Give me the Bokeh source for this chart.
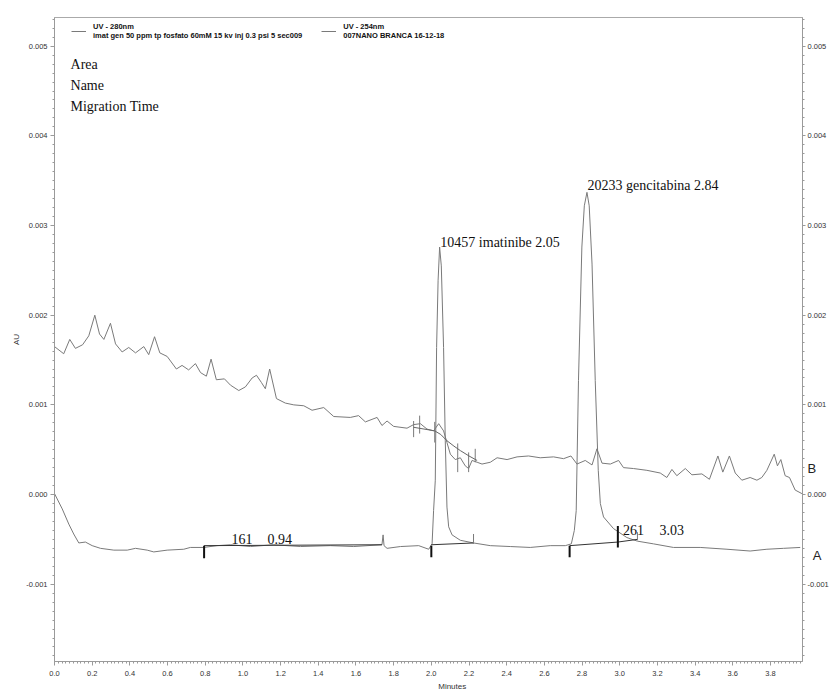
from bokeh.plotting import figure
from bokeh.models import (Range1d, LinearAxis, SingleIntervalTicker, PrintfTickFormatter,
                          Label, Legend, LegendItem)
from bokeh.embed import file_html
from bokeh.resources import INLINE

# ---- Trace A (UV - 280nm, sample) : time (min) / absorbance (AU)
time_a = [0.000, 0.041, 0.076, 0.102, 0.129, 0.164, 0.200, 0.244, 0.315, 0.386, 0.430, 0.492,
          0.527, 0.598, 0.686, 0.721, 0.792, 0.863, 0.934, 1.040, 1.163, 1.305, 1.464, 1.588,
          1.738, 1.744, 1.749, 1.765, 1.836, 1.933, 1.986, 2.004,
          2.012, 2.021, 2.028, 2.036, 2.044, 2.053, 2.065, 2.074, 2.083, 2.092, 2.110, 2.154,
          2.224, 2.313, 2.419, 2.525, 2.631, 2.711,
          2.743, 2.759, 2.769, 2.781, 2.799, 2.812, 2.826, 2.838, 2.853, 2.870, 2.886, 2.897,
          2.914, 2.967, 3.038, 3.094, 3.179, 3.285, 3.427, 3.569, 3.692, 3.781, 3.869, 3.958]
au_a = [0.00001, -0.00016, -0.00033, -0.00044, -0.00054, -0.00053, -0.00057, -0.00060, -0.00062,
        -0.00062, -0.00060, -0.00062, -0.00064, -0.00062, -0.00061, -0.00059, -0.00059, -0.00057,
        -0.00056, -0.00058, -0.00056, -0.00058, -0.00057, -0.00058, -0.00056, -0.00045, -0.00057,
        -0.00060, -0.00058, -0.00057, -0.00061, -0.00055,
        -0.00018, 0.00016, 0.00164, 0.00239, 0.00276, 0.00255, 0.00164, 0.00060, -0.00014,
        -0.00036, -0.00045, -0.00051, -0.00054, -0.00057, -0.00058, -0.00059, -0.00057, -0.00057,
        -0.00055, -0.00040, -0.00018, 0.00127, 0.00276, 0.00322, 0.00337, 0.00322, 0.00257,
        0.00127, 0.00027, -0.00010, -0.00025, -0.00038, -0.00048, -0.00052, -0.00055, -0.00059,
        -0.00059, -0.00061, -0.00063, -0.00061, -0.00060, -0.00059]

# ---- Trace B (UV - 254nm, blank)
time_b = [0.000, 0.049, 0.081, 0.111, 0.149, 0.182, 0.214, 0.239, 0.262, 0.297, 0.324, 0.359,
          0.394, 0.430, 0.474, 0.500, 0.531, 0.559, 0.598, 0.647, 0.677, 0.712, 0.748, 0.775,
          0.806, 0.831, 0.859, 0.902, 0.934, 0.978, 1.013, 1.049, 1.072, 1.098, 1.119, 1.142,
          1.178, 1.225, 1.270, 1.323, 1.367, 1.429, 1.482, 1.570, 1.614, 1.650, 1.712, 1.738,
          1.765, 1.800, 1.871, 1.906, 1.942, 1.977, 2.012, 2.039, 2.065, 2.083, 2.101, 2.127,
          2.154, 2.180, 2.198, 2.216, 2.243, 2.269, 2.313, 2.349, 2.402, 2.455, 2.516, 2.578,
          2.649, 2.702, 2.741, 2.773, 2.817, 2.853, 2.879, 2.906, 2.950, 2.994, 3.020, 3.073,
          3.144, 3.215, 3.250, 3.277, 3.303, 3.348, 3.383, 3.436, 3.476, 3.521, 3.547, 3.582,
          3.613, 3.648, 3.692, 3.728, 3.754, 3.781, 3.820, 3.837, 3.855, 3.878, 3.901, 3.931,
          3.967]
au_b = [0.00165, 0.00157, 0.00173, 0.00163, 0.00167, 0.00177, 0.00200, 0.00179, 0.00173,
        0.00191, 0.00168, 0.00159, 0.00164, 0.00158, 0.00165, 0.00156, 0.00176, 0.00158,
        0.00154, 0.00140, 0.00144, 0.00139, 0.00146, 0.00136, 0.00132, 0.00151, 0.00128,
        0.00129, 0.00122, 0.00116, 0.00120, 0.00130, 0.00133, 0.00125, 0.00118, 0.00140,
        0.00107, 0.00102, 0.00100, 0.00099, 0.00094, 0.00097, 0.00087, 0.00086, 0.00088,
        0.00081, 0.00086, 0.00077, 0.00082, 0.00076, 0.00074, 0.00078, 0.00079, 0.00073,
        0.00071, 0.00079, 0.00071, 0.00058, 0.00045, 0.00039, 0.00041, 0.00032, 0.00029,
        0.00038, 0.00036, 0.00034, 0.00036, 0.00041, 0.00039, 0.00042, 0.00043, 0.00041,
        0.00042, 0.00040, 0.00043, 0.00034, 0.00038, 0.00033, 0.00051, 0.00035, 0.00034,
        0.00038, 0.00030, 0.00029, 0.00027, 0.00024, 0.00019, 0.00028, 0.00021, 0.00029,
        0.00022, 0.00023, 0.00017, 0.00043, 0.00025, 0.00043, 0.00024, 0.00016, 0.00019,
        0.00016, 0.00019, 0.00027, 0.00045, 0.00032, 0.00039, 0.00021, 0.00019, 0.00005,
        0.00001]

# ---- integration events on trace A
event_a_t = [0.794, 2.000, 2.734, 2.990]
event_a_top = [-0.00057, -0.00057, -0.00057, -0.00035]
event_a_bot = [-0.00071, -0.00070, -0.00070, -0.00059]
base_a_t0 = [0.794, 2.000, 2.734, 2.990]
base_a_t1 = [1.738, 2.224, 2.990, 3.094]
base_a_y0 = [-0.00057, -0.00056, -0.00057, -0.00053]
base_a_y1 = [-0.00056, -0.00054, -0.00053, -0.00050]
end_a_t = [2.224, 3.094]
end_a_top = [-0.00044, -0.00042]
end_a_bot = [-0.00055, -0.00051]

# ---- integration events on trace B
event_b_t = [1.906, 1.938, 2.018, 2.140, 2.198, 2.233]
event_b_top = [0.00082, 0.00088, 0.00081, 0.00057, 0.00047, 0.00051]
event_b_bot = [0.00064, 0.00068, 0.00058, 0.00025, 0.00025, 0.00036]
base_b_t = [1.906, 2.018, 2.050, 2.083, 2.120, 2.154, 2.200, 2.243]
base_b_y = [0.00075, 0.00071, 0.00067, 0.00060, 0.00054, 0.00049, 0.00043, 0.00038]

# ---- peak table (area, name, migration time)
peak_area = ["161", "10457", "20233", "261"]
peak_name = ["", "imatinibe", "gencitabina", ""]
peak_mt = ["0.94", "2.05", "2.84", "3.03"]

legend_labels = ["UV - 280nm\nimat gen 50 ppm tp fosfato 60mM 15 kv inj 0.3 psi 5 sec009",
                 "UV - 254nm\n007NANO BRANCA 16-12-18"]

TRACE = "#7a7a7a"
AXIS = "#9a9a9a"
TICKLBL = "#333333"

p = figure(width=831, height=692, output_backend="svg", toolbar_location=None,
           x_range=Range1d(0, 3.97), y_range=Range1d(-0.001862, 0.00532),
           min_border_left=54, min_border_right=25, min_border_top=17, min_border_bottom=31)
p.xgrid.visible = False
p.ygrid.visible = False
p.outline_line_color = "#aaaaaa"
p.background_fill_color = "white"

rA = p.line(time_a, au_a, line_color=TRACE, line_width=1)
rB = p.line(time_b, au_b, line_color=TRACE, line_width=1)

# integration marks
p.segment(x0=base_a_t0, y0=base_a_y0, x1=base_a_t1, y1=base_a_y1, line_color="#333333", line_width=1)
p.segment(x0=event_a_t, y0=event_a_top, x1=event_a_t, y1=event_a_bot, line_color="#111111", line_width=2)
p.segment(x0=end_a_t, y0=end_a_top, x1=end_a_t, y1=end_a_bot, line_color=TRACE, line_width=1)
p.segment(x0=event_b_t, y0=event_b_top, x1=event_b_t, y1=event_b_bot, line_color=TRACE, line_width=1)
p.line(base_b_t, base_b_y, line_color="#666666", line_width=1)


def style_axis(ax):
    ax.axis_line_color = AXIS
    ax.major_tick_line_color = AXIS
    ax.minor_tick_line_color = AXIS
    ax.major_tick_in = 0
    ax.minor_tick_in = 0
    ax.major_tick_out = 4
    ax.minor_tick_out = 2
    ax.major_label_text_font = "Liberation Sans"
    ax.major_label_text_font_size = "7.5px"
    ax.major_label_text_color = TICKLBL
    ax.major_label_standoff = 3


p.xaxis.ticker = SingleIntervalTicker(interval=0.2, num_minor_ticks=10)
p.xaxis.formatter = PrintfTickFormatter(format="%.1f")
p.yaxis.ticker = SingleIntervalTicker(interval=0.001, num_minor_ticks=10)
p.yaxis.formatter = PrintfTickFormatter(format="%.3f")
for ax in p.xaxis:
    style_axis(ax)
    ax.major_label_standoff = 5
for ax in p.yaxis:
    style_axis(ax)
    ax.axis_label = "AU"
    ax.axis_label_text_font = "Liberation Sans"
    ax.axis_label_text_font_style = "normal"
    ax.axis_label_text_font_size = "8px"
    ax.axis_label_text_color = TICKLBL
    ax.axis_label_standoff = 2

right = LinearAxis(ticker=SingleIntervalTicker(interval=0.001, num_minor_ticks=10),
                   formatter=PrintfTickFormatter(format="%.3f"))
style_axis(right)
right.major_tick_out = 3
right.major_label_standoff = 2
p.add_layout(right, "right")

# legend
legend = Legend(items=[LegendItem(label=legend_labels[0], renderers=[rA]),
                       LegendItem(label=legend_labels[1], renderers=[rB])],
                orientation="horizontal", location=(17, 620),
                background_fill_alpha=0, border_line_alpha=0, margin=0, padding=0,
                glyph_width=15, glyph_height=20, label_standoff=7, spacing=19,
                label_text_font="Liberation Sans", label_text_font_size="7.5px",
                label_text_font_style="bold", label_text_color="#111111",
                label_text_line_height=1.3)
p.add_layout(legend)

SERIF = "Liberation Serif"
for i, t in enumerate(["Area", "Name", "Migration Time"]):
    p.add_layout(Label(x=0.085, y=[0.0048, 0.00456, 0.00433][i], text=t, text_font=SERIF,
                       text_font_size="14px", text_color="#111111", text_baseline="alphabetic"))

# peak annotations
p.add_layout(Label(x=0.939, y=-0.000494, text=peak_area[0], text_font=SERIF, text_font_size="14px",
                   text_color="#111111", text_baseline="alphabetic"))
p.add_layout(Label(x=1.130, y=-0.000494, text=peak_mt[0], text_font=SERIF, text_font_size="14px",
                   text_color="#111111", text_baseline="alphabetic"))
p.add_layout(Label(x=2.048, y=0.002813, text=f"{peak_area[1]}  {peak_name[1]}  {peak_mt[1]}",
                   text_font=SERIF, text_font_size="14px", text_color="#111111",
                   text_baseline="alphabetic"))
p.add_layout(Label(x=2.829, y=0.003445, text=f"{peak_area[2]}  {peak_name[2]}  {peak_mt[2]}",
                   text_font=SERIF, text_font_size="14px", text_color="#111111",
                   text_baseline="alphabetic"))
p.add_layout(Label(x=3.017, y=-0.000401, text=peak_area[3], text_font=SERIF, text_font_size="14px",
                   text_color="#111111", text_baseline="alphabetic"))
p.add_layout(Label(x=3.211, y=-0.000401, text=peak_mt[3], text_font=SERIF, text_font_size="14px",
                   text_color="#111111", text_baseline="alphabetic"))

# trace identifiers outside the right edge: placed in side panels with spare room
# (side-panel annotations are not clipped to the frame; they are drawn at data coords)
p.add_layout(Label(x=4.019, y=0.00029, text="B", text_font="Liberation Sans", text_font_size="13px",
                   text_color="#222222", text_align="center", text_baseline="middle"), "left")
p.add_layout(Label(x=4.048, y=-0.00068, text="A", text_font="Liberation Sans", text_font_size="13px",
                   text_color="#222222", text_align="center", text_baseline="middle"), "above")

# x axis title
p.add_layout(Label(x=2.111, y=-0.00214, text="Minutes", text_font="Liberation Sans",
                   text_font_size="8px", text_color=TICKLBL, text_align="center",
                   text_baseline="middle"), "below")

open("out.html", "w").write(file_html(p, INLINE))
